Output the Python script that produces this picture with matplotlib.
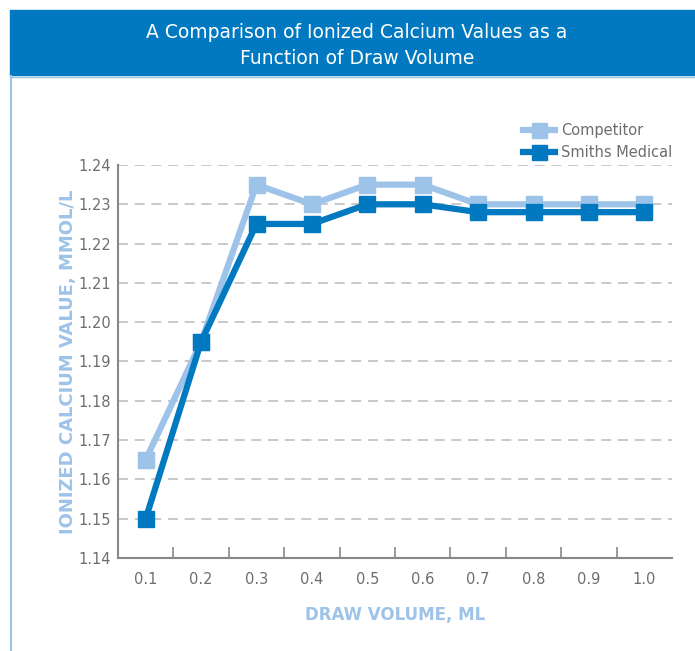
import numpy as np
from matplotlib import pyplot as plt
from matplotlib.patches import Rectangle
from matplotlib.lines import Line2D
from matplotlib.ticker import MultipleLocator, FixedLocator, StrMethodFormatter

volumes = [0.1, 0.2, 0.3, 0.4, 0.5, 0.6, 0.7, 0.8, 0.9, 1.0]
competitor = [1.165, 1.195, 1.235, 1.23, 1.235, 1.235, 1.23, 1.23, 1.23, 1.23]
smiths = [1.15, 1.195, 1.225, 1.225, 1.23, 1.23, 1.228, 1.228, 1.228, 1.228]
x_labels = ["0.1", "0.2", "0.3", "0.4", "0.5", "0.6", "0.7", "0.8", "0.9", "1.0"]

dark_blue = "#0079c1"
light_blue = "#9dc3e9"
gray_text = "#6d6e70"

if __name__ == '__main__':
    fig = plt.figure(figsize=(6.95, 6.51), dpi=100)

    # banner
    fig.patches.append(Rectangle((10 / 695, 1 - 75 / 651), 1 - 10 / 695, 65 / 651,
                                 transform=fig.transFigure, color=dark_blue, zorder=0))
    fig.lines.append(Line2D([10 / 695, 1], [1 - 76.5 / 651, 1 - 76.5 / 651],
                            transform=fig.transFigure, color=light_blue, lw=1))
    fig.lines.append(Line2D([10.5 / 695, 10.5 / 695], [0, 1 - 76 / 651],
                            transform=fig.transFigure, color=light_blue, lw=1.5))
    fig.text(357 / 695, 1 - 32 / 651, "A Comparison of Ionized Calcium Values as a",
             ha="center", va="center", color="white", fontsize=13.5)
    fig.text(357 / 695, 1 - 59 / 651, "Function of Draw Volume",
             ha="center", va="center", color="white", fontsize=13.5)

    ax = fig.add_axes([118 / 695, 93 / 651, (672 - 118) / 695, (558 - 165) / 651])

    ax.plot(volumes, competitor, "-s", color=light_blue, lw=4.5, ms=12,
            label="Competitor", zorder=3)
    ax.plot(volumes, smiths, "-s", color=dark_blue, lw=4.5, ms=12,
            label="Smiths Medical", zorder=4)

    ax.set_xlim(0.05, 1.05)
    ax.set_ylim(1.14, 1.24)
    ax.yaxis.set_major_locator(MultipleLocator(0.01))
    ax.yaxis.set_major_formatter(StrMethodFormatter("{x:.2f}"))
    ax.set_xticks(volumes)
    ax.set_xticklabels(x_labels)
    ax.xaxis.set_minor_locator(FixedLocator(np.arange(0.15, 1.0, 0.1)))
    ax.tick_params(axis="x", which="major", length=0, pad=10, labelsize=10.5, labelcolor=gray_text)
    ax.tick_params(axis="x", which="minor", length=8, direction="in", color="#888888", width=1.2)
    ax.tick_params(axis="y", length=0, pad=5, labelsize=10.5, labelcolor=gray_text)

    ax.grid(axis="y", color="#c0c0c0", linestyle=(0, (6, 4)), lw=1.2)
    ax.set_axisbelow(True)
    for s in ["top", "right"]:
        ax.spines[s].set_visible(False)
    for s in ["left", "bottom"]:
        ax.spines[s].set_color("#888888")
        ax.spines[s].set_linewidth(1.5)

    ax.set_xlabel("DRAW VOLUME, ML", color=light_blue, fontsize=12, fontweight="bold",
                  labelpad=14)
    ax.set_ylabel("IONIZED CALCIUM VALUE, MMOL/L", color=light_blue, fontsize=13,
                  fontweight="bold", labelpad=1)

    leg = fig.legend(loc="upper right", bbox_to_anchor=(685 / 695, 1 - 110 / 651),
                     frameon=False, fontsize=10.5, handlelength=2.2, labelspacing=0.5,
                     handletextpad=0.4, markerscale=0.9)
    for t in leg.get_texts():
        t.set_color(gray_text)

    plt.savefig("out.png", dpi=100)
